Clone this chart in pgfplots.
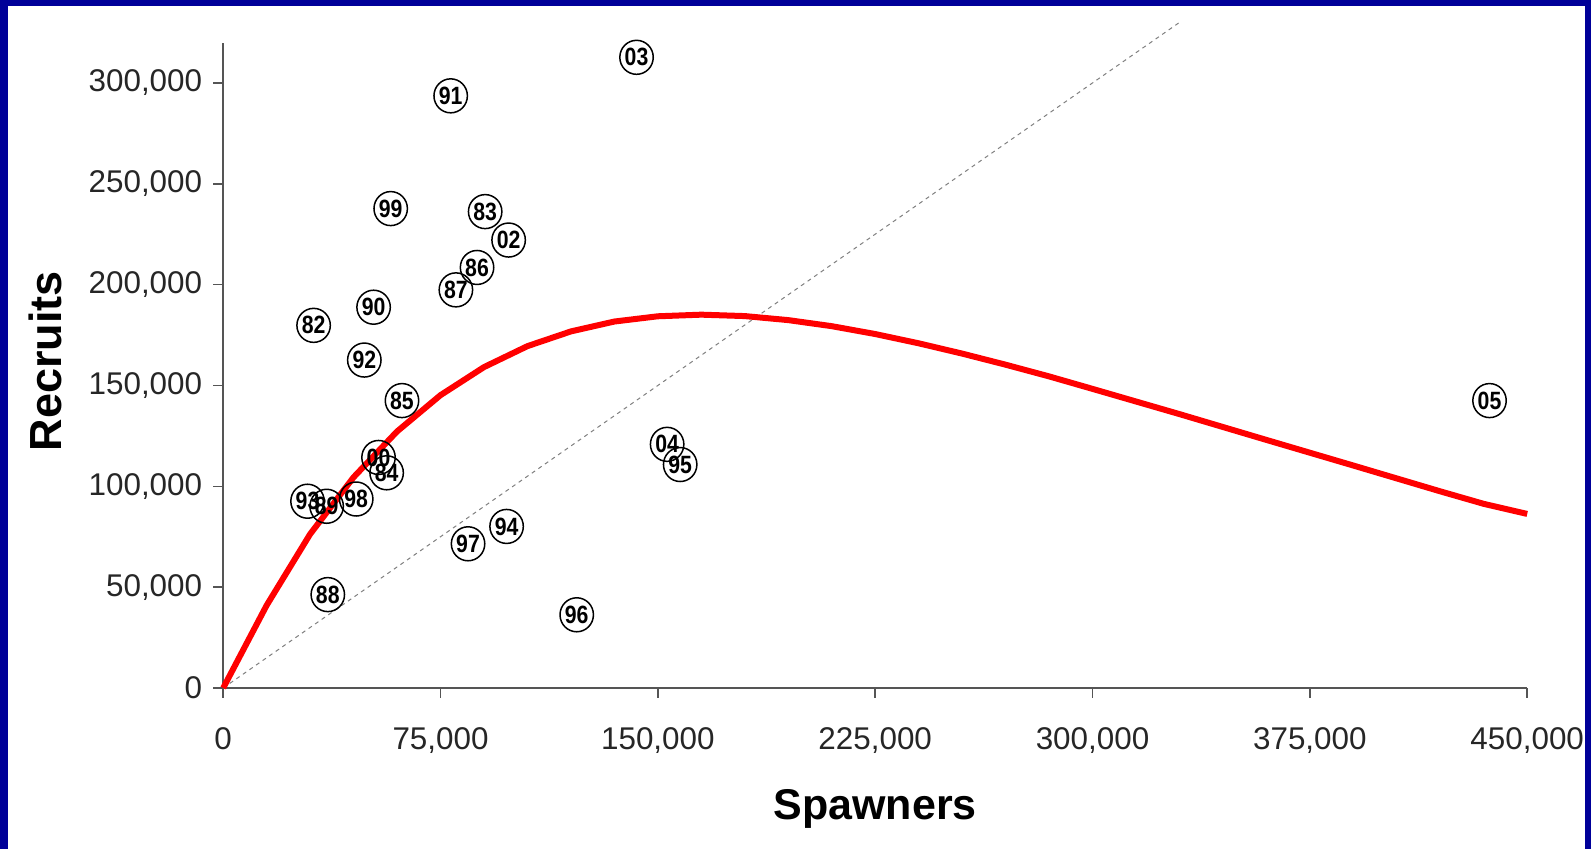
\documentclass[border=0pt]{standalone}
\usepackage{fontspec}
\setmainfont{Liberation Sans}
\usepackage{pgfplots}
\pgfplotsset{compat=1.18}
\usetikzlibrary{shapes.geometric}
\definecolor{frameblue}{HTML}{000099}
\definecolor{axisgray}{HTML}{555555}
\begin{document}
\begin{tikzpicture}
\fill[frameblue] (0,0) rectangle (795.5pt,424.5pt);
\fill[white] (3.75pt,0) rectangle (792.5pt,421.5pt);
\begin{axis}[
  at={(111.6pt,80.5pt)}, anchor=south west,
  scale only axis, width=652pt, height=322.7pt,
  xmin=0, xmax=450000, ymin=0, ymax=320000,
  axis x line*=bottom, axis y line*=left,
  axis line style={axisgray, line width=1pt},
  xtick={0,75000,150000,225000,300000,375000,450000},
  ytick={0,50000,100000,150000,200000,250000,300000},
  tick align=outside, major tick length=5pt,
  tick style={axisgray, line width=0.8pt},
  minor tick num=0,
  scaled ticks=false,
  /pgf/number format/.cd, fixed, 1000 sep={,}, assume math mode=true,
  /pgfplots/.cd,
  ticklabel style={font=\fontsize{15.7}{16}\selectfont, text=black!85},
  xticklabel style={anchor=center, text height=11.3pt, text depth=0pt, yshift=-20.3pt},
  yticklabel style={anchor=east, xshift=-2pt},
  xlabel={\textbf{Spawners}},
  ylabel={\textbf{Recruits}},
  xlabel style={font=\fontsize{21.5}{22}\selectfont, at={([yshift=-60.4pt]axis description cs:0.5,0)}, anchor=center},
  ylabel style={font=\fontsize{22.5}{23}\selectfont, at={([xshift=-88.8pt]axis description cs:0,0.506)}, anchor=center, rotate=0},
  clip=false,
]
% 1:1 replacement line
\addplot[gray, line width=0.5pt, dash pattern=on 2pt off 2pt] coordinates {(0,0) (330000,330000)};
% Ricker curve
\addplot[red, line width=3pt, line join=round, no marks] coordinates {
(0,0) (15000,41000) (30000,76300) (45000,104500) (60000,127200) (75000,145200)
(90000,159100) (105000,169500) (120000,176800) (135000,181700) (150000,184300)
(165000,185100) (180000,184400) (195000,182400) (210000,179400) (225000,175500)
(240000,170900) (255000,165800) (270000,160300) (285000,154500) (300000,148300)
(330000,135800) (360000,123000) (390000,110300) (420000,97500) (435000,91300) (450000,86300)
};
% labelled stock-recruit points
\addplot[only marks, mark=none, point meta=explicit symbolic,
  nodes near coords={\scalebox{0.85}[1]{\pgfplotspointmeta}},
  nodes near coords align={center},
  every node near coord/.style={ellipse, draw=black, line width=0.75pt, inner sep=0pt,
    minimum width=16pt, minimum height=17pt, anchor=center,
    font=\bfseries\fontsize{12.5}{12.5}\selectfont, text=black}]
table[meta=lbl] {
x y lbl
142640 312700 03
78500 293600 91
57800 237700 99
90400 236200 83
98500 222100 02
87600 208500 86
80300 197400 87
51900 188800 90
31200 179800 82
48700 162600 92
61700 142500 85
53600 114300 00
56400 106700 84
29100 92600 93
35700 90100 89
45900 93700 98
36100 46300 88
84500 71500 97
97800 80100 94
122000 36300 96
153200 120800 04
157700 110800 95
437000 142500 05
};
\end{axis}
\end{tikzpicture}
\end{document}
